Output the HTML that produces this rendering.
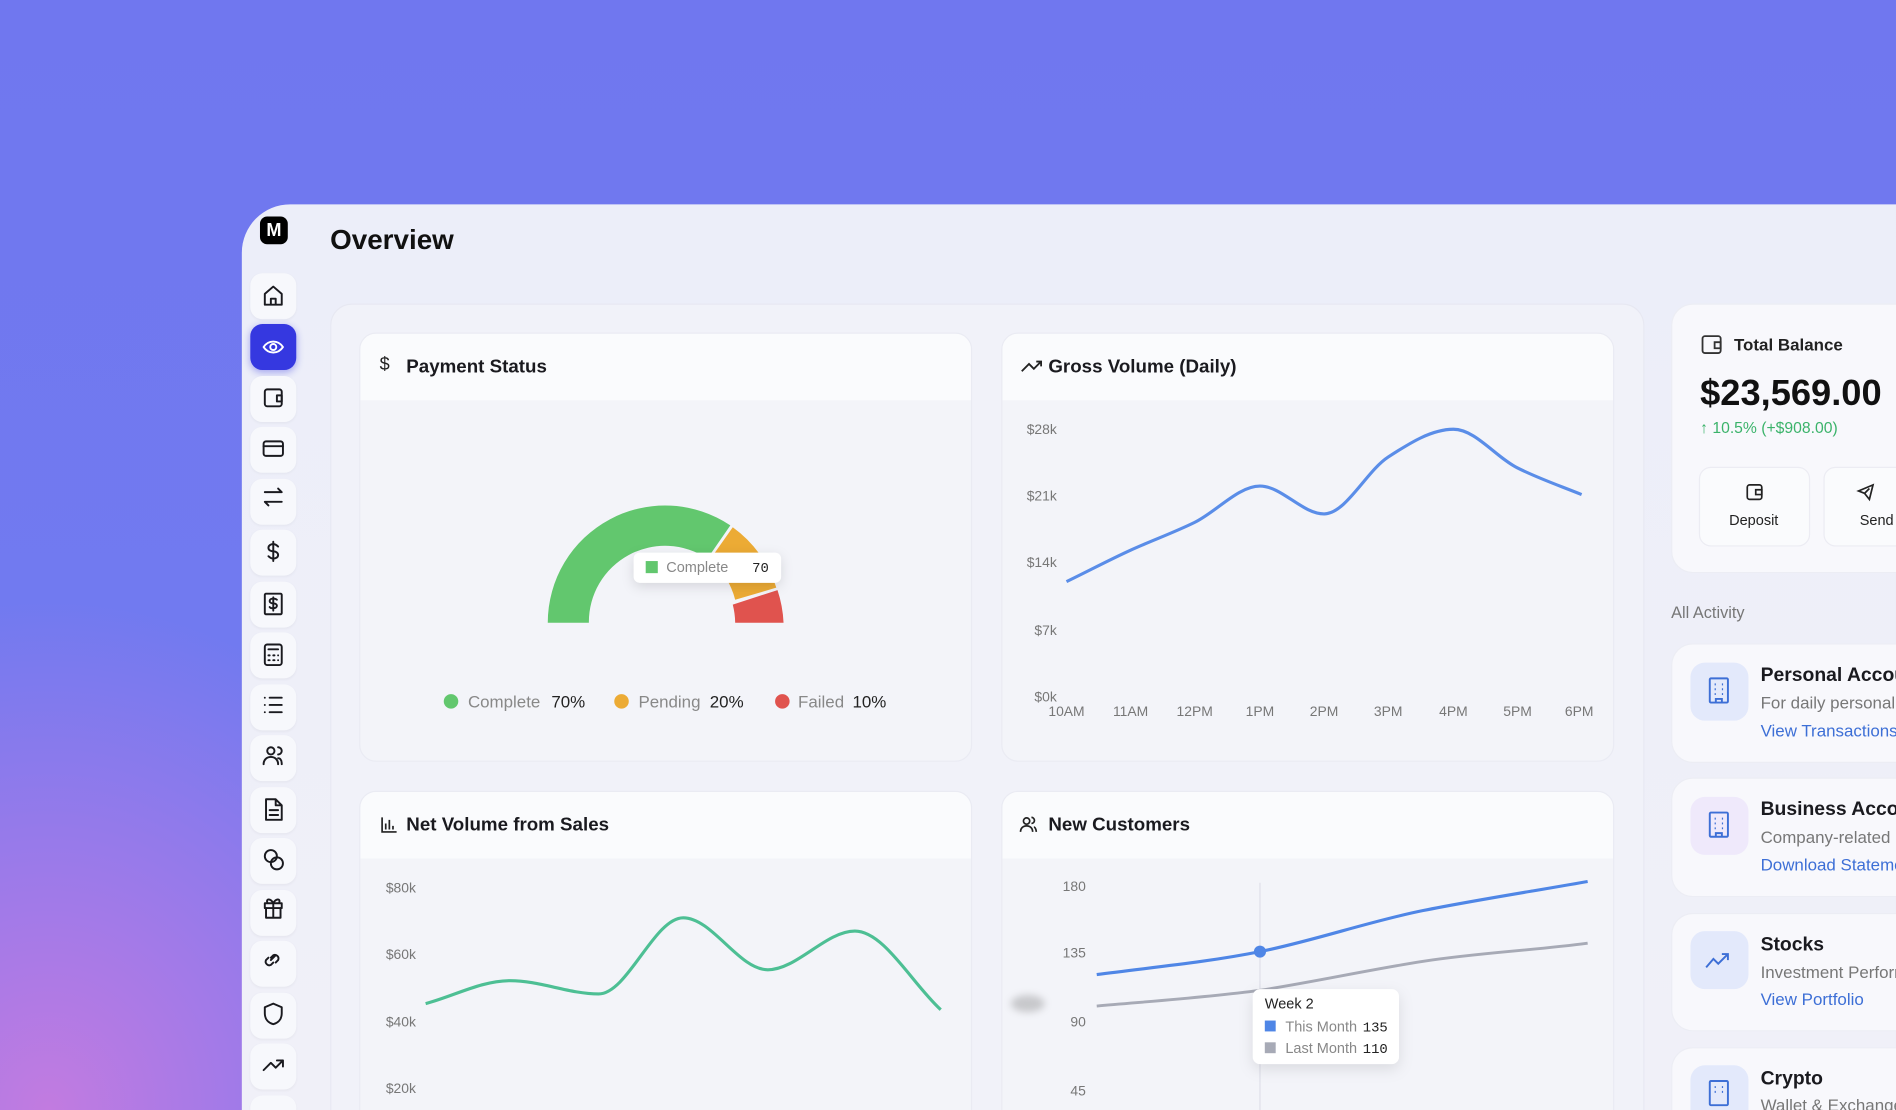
<!DOCTYPE html>
<html><head><meta charset="utf-8"><style>
*{margin:0;padding:0;box-sizing:border-box}
html,body{width:1896px;height:1110px;overflow:hidden;font-family:"Liberation Sans",sans-serif}
#root{position:absolute;left:0;top:0;width:1568px;height:918px;transform:scale(1.20918);transform-origin:0 0;
background:radial-gradient(ellipse 380px 420px at 40px 918px,#c27be0 0%,#a27ae8 40%,rgba(112,120,238,0) 100%),linear-gradient(180deg,#7077ef 0%,#727cf0 100%);overflow:hidden}
.a{position:absolute}
.panel{left:200px;top:169px;width:1368px;height:749px;background:linear-gradient(180deg,#eceef9,#f0f0f8);border-radius:40px 0 0 0}
.sb{left:207px;width:38px;height:38px;background:#f7f8fc;border-radius:10px;box-shadow:0 1px 2px rgba(0,0,0,.04)}
.main{left:273px;top:251px;width:1087px;height:667px;background:#f1f2f9;border-radius:18px 18px 0 0;border:1px solid #e7e8f2;border-bottom:none}
.card{background:#f3f4f9;border-radius:14px;border:1px solid #eaebf3;overflow:hidden}
.card .hd{height:55px;background:#fafbfd;font-size:15.5px;font-weight:bold;color:#1a1a1f;padding:19px 0 0 38px;position:relative}
.rc{left:1382px;width:186px;background:#f8f8fc;border-radius:18px 0 0 18px;border:1px solid #ecedf4;border-right:none}
.ico{left:1398px;width:48px;height:48px;border-radius:12px;background:#e3e9fb}
.ttl{left:1456px;font-size:16px;font-weight:bold;color:#1a1a1f}
.sub{left:1456px;font-size:14px;color:#777}
.lnk{left:1456px;font-size:14px;color:#3d6fd6}
</style></head><body><div id="root">
<div class="a panel"></div>
<div class="a" style="left:215px;top:179px;width:23px;height:23px;background:#000;border-radius:6px;color:#fff;font-weight:bold;font-size:15px;text-align:center;line-height:23px">M</div>
<div class="a" style="left:273px;top:185px;font-size:23px;font-weight:bold;color:#111">Overview</div>

<div class="a sb" style="top:226px"></div>
<div class="a sb" style="top:268px;background:#3538e0;box-shadow:0 2px 6px rgba(53,56,224,.4)"></div>
<div class="a sb" style="top:311px"></div><div class="a sb" style="top:353px"></div><div class="a sb" style="top:396px"></div><div class="a sb" style="top:438px"></div><div class="a sb" style="top:481px"></div><div class="a sb" style="top:523px"></div><div class="a sb" style="top:566px"></div><div class="a sb" style="top:608px"></div><div class="a sb" style="top:651px"></div><div class="a sb" style="top:693px"></div><div class="a sb" style="top:736px"></div><div class="a sb" style="top:778px"></div><div class="a sb" style="top:821px"></div><div class="a sb" style="top:863px"></div><div class="a sb" style="top:906px;height:12px;border-radius:10px 10px 0 0"></div>
<svg class="a" style="left:207px;top:226px" width="38" height="692" fill="none" stroke="#1a1a1f" stroke-width="1.6" stroke-linecap="round" stroke-linejoin="round">
<path d="M12 26V17l7-6 7 6v9zM17 26v-5h4v5"/>
<g stroke="#fff"><path d="M11 61c4-6 12-6 16 0c-4 6-12 6-16 0z"/><circle cx="19" cy="61" r="2.5"/></g>
<rect x="12" y="96" width="14" height="14" rx="2"/><path d="M22 101h4v5h-4z"/>
<rect x="11" y="139" width="16" height="12" rx="2"/><path d="M11 143h16"/>
<path d="M12 181h14l-3-3M26 189H12l3 3"/>
<path d="M19 222v16M23 226c-1-1-2-2-4-2s-4 1-4 3 2 3 4 3 4 1 4 3-2 3-4 3-3-1-4-2"/>
<rect x="12" y="265" width="14" height="17" rx="1"/><path d="M19 268v11M22 270c-1-1-2-1-3-1-2 0-3 1-3 2s1 2 3 2 3 1 3 2-1 2-3 2-2 0-3-1"/>
<rect x="12" y="307" width="14" height="17" rx="2"/><path d="M15 311h8M15 316h1M19 316h1M23 316h0M15 320h1M19 320h1M23 320h0"/>
<path d="M16 351h10M16 357h10M16 363h10M12 351h0M12 357h0M12 363h0"/>
<circle cx="17" cy="395" r="3"/><path d="M11 406c0-4 3-6 6-6s6 2 6 6M23 392a3 3 0 010 6M26 406c0-3-1-5-3-5"/>
<path d="M13 435h8l5 5v12H13zM21 435v5h5M16 444h7M16 448h7"/>
<circle cx="17" cy="482" r="5"/><circle cx="22" cy="488" r="5"/>
<rect x="12" y="521" width="14" height="4"/><path d="M13 525v8h12v-8M19 521v12M19 521c-2-4-6-4-5-1M19 521c2-4 6-4 5-1"/>
<path d="M17 568l4-4M15 566l-2 2a3 3 0 004 4l2-2M21 570l2-2a3 3 0 00-4-4l-2 2"/>
<path d="M19 604l7 3v5c0 5-3 8-7 9-4-1-7-4-7-9v-5z"/>
<path d="M11 659l6-6 4 4 6-6M22 651h5v5"/>
</svg>

<div class="a main"></div>
<div class="a card" style="left:297px;top:275px;width:507px;height:355px"><div class="hd">Payment Status</div></div>
<div class="a card" style="left:828px;top:275px;width:507px;height:355px"><div class="hd">Gross Volume (Daily)</div></div>
<div class="a card" style="left:297px;top:654px;width:507px;height:280px"><div class="hd">Net Volume from Sales</div></div>
<div class="a card" style="left:828px;top:654px;width:507px;height:280px"><div class="hd">New Customers</div></div>
<div class="a" style="left:314px;top:293px;font-size:15px;color:#222">$</div>

<svg class="a" style="left:0;top:0" width="1568" height="918" font-family="Liberation Sans, sans-serif">
<path d="M845 307l6-6 4 4 6-6M857 299h4v4" stroke="#222" stroke-width="1.5" fill="none"/>
<path d="M316 676v12h12M319 686v-5M322 686v-8M325 686v-3" stroke="#222" stroke-width="1.4" fill="none"/>
<g stroke="#222" stroke-width="1.4" fill="none"><circle cx="849" cy="679" r="2.6"/><path d="M844 688c0-3 2-5 5-5s5 2 5 5M853 676a2.5 2.5 0 010 5M857 688c0-2-1-4-2-4"/></g>
<path d="M453 515A97 97 0 0 1 604 434.5L585 462A63 63 0 0 0 487 515Z" fill="#62c76e"/>
<path d="M606 436A97 97 0 0 1 642 486L608 496A63 63 0 0 0 587 463Z" fill="#ecab35"/>
<path d="M643 488A99 99 0 0 1 648 515L608 515A63 63 0 0 0 606 500Z" fill="#e0534e"/>
<rect x="524" y="457" width="122" height="25" rx="5" fill="#fff" style="filter:drop-shadow(0 3px 5px rgba(0,0,0,.12))"/>
<rect x="534" y="464" width="10" height="10" fill="#62c76e"/>
<text x="551" y="473" font-size="12" fill="#888">Complete</text><text x="622" y="473" font-size="11.5" fill="#222" font-family="Liberation Mono, monospace">70</text>
<g font-size="14"><circle cx="373" cy="580" r="6" fill="#62c76e"/><text x="387" y="585" fill="#888">Complete</text><text x="456" y="585" fill="#222">70%</text>
<circle cx="514" cy="580" r="6" fill="#ecab35"/><text x="528" y="585" fill="#888">Pending</text><text x="587" y="585" fill="#222">20%</text>
<circle cx="647" cy="580" r="6" fill="#e0534e"/><text x="660" y="585" fill="#888">Failed</text><text x="705" y="585" fill="#222">10%</text></g>
<g font-size="11.5" fill="#777" text-anchor="end"><text x="874" y="359">$28k</text><text x="874" y="414">$21k</text><text x="874" y="469">$14k</text><text x="874" y="525">$7k</text><text x="874" y="580">$0k</text></g>
<g font-size="11.5" fill="#777" text-anchor="middle"><text x="882" y="592">10AM</text><text x="935" y="592">11AM</text><text x="988" y="592">12PM</text><text x="1042" y="592">1PM</text><text x="1095" y="592">2PM</text><text x="1148" y="592">3PM</text><text x="1202" y="592">4PM</text><text x="1255" y="592">5PM</text><text x="1306" y="592">6PM</text></g>
<path d="M882 481C900 472.3,917 463.2,935 455C953 446.8,970 440.8,988 432C1006 423.2,1024 402,1042 402C1060 402,1077 425,1095 425C1113 425,1130 389.7,1148 378C1166 366.3,1184 355,1202 355C1220 355,1237 378,1255 387C1273 396,1290 401.7,1308 409" stroke="#5a8de8" stroke-width="2.6" fill="none"/>
<g font-size="11.5" fill="#777" text-anchor="end"><text x="344" y="738">$80k</text><text x="344" y="793">$60k</text><text x="344" y="849">$40k</text><text x="344" y="904">$20k</text></g>
<path d="M352 830C375.7 823.7,398 811,422 811C446 811,471 822,495 822C519 822,541 759,565 759C589 759,611 802,635 802C659 802,683 770,707 770C731 770,754 813,778 835" stroke="#4dbf94" stroke-width="2.6" fill="none"/>
<g font-size="11.5" fill="#777" text-anchor="end"><text x="898" y="737">180</text><text x="898" y="792">135</text><text x="898" y="849">90</text><text x="898" y="906">45</text></g>
<line x1="1042" y1="730" x2="1042" y2="918" stroke="#dfe0ea" stroke-width="1"/>
<path d="M907 832C952 828,997 825,1042 819C1087 812,1132 802,1177 795C1222 788,1268 786,1313 780" stroke="#a7aab6" stroke-width="2.4" fill="none"/>
<path d="M907 806C952 800,997 796,1042 787C1087 778,1132 762,1177 753C1222 744,1268 737,1313 729" stroke="#4f86e6" stroke-width="2.6" fill="none"/>
<circle cx="1042" cy="787" r="5" fill="#4f86e6"/>
<ellipse cx="850" cy="830" rx="14" ry="7" fill="#777" opacity=".35" style="filter:blur(3px)"/>
<rect x="1036" y="818" width="121" height="62" rx="6" fill="#fff" style="filter:drop-shadow(0 4px 6px rgba(0,0,0,.1))"/>
<text x="1046" y="834" font-size="12" fill="#222">Week 2</text>
<rect x="1046" y="844" width="9" height="9" fill="#4f86e6"/><text x="1063" y="853" font-size="12" fill="#888">This Month</text><text x="1127" y="853" font-size="11.5" fill="#222" font-family="Liberation Mono, monospace">135</text>
<rect x="1046" y="862" width="9" height="9" fill="#a7aab6"/><text x="1063" y="871" font-size="12" fill="#888">Last Month</text><text x="1127" y="871" font-size="11.5" fill="#222" font-family="Liberation Mono, monospace">110</text>
</svg>

<div class="a rc" style="top:251px;height:223px"></div>
<svg class="a" style="left:1406px;top:275px" width="20" height="20" fill="none" stroke="#333" stroke-width="1.5"><rect x="2" y="3" width="15" height="14" rx="2"/><path d="M12 8h5v5h-5z"/></svg>
<div class="a" style="left:1434px;top:277px;font-size:14px;font-weight:bold;color:#222">Total Balance</div>
<div class="a" style="left:1406px;top:309px;font-size:30px;font-weight:bold;color:#111;white-space:nowrap">$23,569.00</div>
<div class="a" style="left:1406px;top:346px;font-size:13px;color:#3bb36a">↑ 10.5% (+$908.00)</div>
<div class="a" style="left:1405px;top:386px;width:92px;height:66px;background:#fafbfd;border-radius:10px;border:1px solid #ececf3"></div>
<div class="a" style="left:1508px;top:386px;width:92px;height:66px;background:#fafbfd;border-radius:10px;border:1px solid #ececf3"></div>
<svg class="a" style="left:1443px;top:399px" width="120" height="18" fill="none" stroke="#222" stroke-width="1.4"><rect x="2" y="2" width="12" height="12" rx="2"/><path d="M9 6h5v4H9zM103 14l3-12-12 5 5 2zM99 9l4-4"/></svg>
<div class="a" style="left:1430px;top:423px;font-size:12px;color:#222">Deposit</div>
<div class="a" style="left:1538px;top:423px;font-size:12px;color:#222">Send</div>
<div class="a" style="left:1382px;top:499px;font-size:13.5px;color:#777">All Activity</div>

<div class="a rc" style="top:532px;height:99px"></div>
<div class="a rc" style="top:643px;height:99px"></div>
<div class="a rc" style="top:755px;height:98px"></div>
<div class="a rc" style="top:866px;height:52px;border-radius:18px 0 0 0;border-bottom:none"></div>
<div class="a ico" style="top:548px"></div>
<div class="a ico" style="top:659px;background:#efe9fb"></div>
<div class="a ico" style="top:770px"></div>
<div class="a ico" style="top:881px;height:37px;border-radius:12px 12px 0 0"></div>
<svg class="a" style="left:1398px;top:548px" width="48" height="370" fill="none" stroke="#3d6fd6" stroke-width="1.6">
<rect x="16" y="13" width="15" height="20" rx="1"/><path d="M20 18h1M26 18h1M20 22h1M26 22h1M20 26h1M26 26h1M21 33v-3h5v3"/>
<g transform="translate(0,111)"><rect x="16" y="13" width="15" height="20" rx="1"/><path d="M20 18h1M26 18h1M20 22h1M26 22h1M20 26h1M26 26h1M21 33v-3h5v3"/></g>
<path d="M13 252l6-7 4 4 8-8M26 241h5v5"/>
<g transform="translate(0,333)"><rect x="16" y="13" width="15" height="20" rx="1"/><path d="M20 18h1M26 18h1M20 22h1M26 22h1"/></g>
</svg>
<div class="a ttl" style="top:550px;white-space:nowrap">Personal Account</div>
<div class="a sub" style="top:573px;white-space:nowrap">For daily personal</div>
<div class="a lnk" style="top:596px;white-space:nowrap">View Transactions</div>
<div class="a ttl" style="top:661px;white-space:nowrap">Business Account</div>
<div class="a sub" style="top:684px;white-space:nowrap">Company-related</div>
<div class="a lnk" style="top:707px;white-space:nowrap">Download Statement</div>
<div class="a ttl" style="top:773px">Stocks</div>
<div class="a sub" style="top:796px;white-space:nowrap">Investment Performance</div>
<div class="a lnk" style="top:818px">View Portfolio</div>
<div class="a ttl" style="top:884px">Crypto</div>
<div class="a sub" style="top:906px;white-space:nowrap">Wallet &amp; Exchange</div>
</div></body></html>
